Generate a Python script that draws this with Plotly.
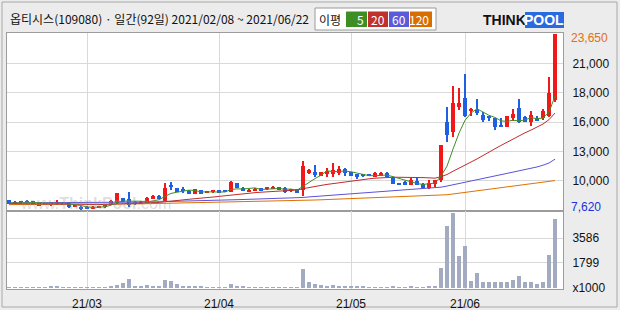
import plotly.graph_objects as go
from plotly.subplots import make_subplots

# ---------------- data ----------------
days = list(range(92))
opens = [8530, 8230, 8230, 8440, 8440, 8070, 8230, 8050, 8230, 8290,
         8230, 7920, 7920, 7920, 7710, 7860, 7860, 8140, 8230, 8690,
         8590, 8380, 8230, 8290, 8620, 8920, 8470, 9900, 9600, 9510,
         9380, 9080, 9440, 9200, 9230, 9440, 9440, 9290, 10050, 9650,
         9290, 9350, 9600, 9510, 9600, 9740, 9650, 9380, 9510, 9440,
         10960, 11110, 10740, 10900, 10900, 11020, 11330, 11050, 10870, 10840,
         10840, 10650, 10740, 10960, 10560, 10100, 10200, 9925, 10262, 10020,
         9620, 9990, 10353, 15660, 14750, 17030, 17790, 16640, 16730, 16270,
         16180, 15970, 15360, 15210, 16030, 16880, 16060, 15660, 15970, 16030,
         16180, 17640]
highs = [8560, 8400, 8460, 8530, 8460, 8250, 8250, 8340, 8530, 8310,
         8250, 8090, 7950, 7950, 7940, 8030, 8160, 8500, 9160, 8710,
         9290, 8400, 8400, 8760, 8950, 8950, 10050, 10140, 9650, 9740,
         9400, 9560, 9470, 9350, 9460, 9480, 9460, 10230, 10080, 9680,
         9500, 9620, 9650, 9750, 9820, 9760, 9680, 9500, 9500, 12110,
         11350, 11720, 11080, 11420, 11930, 11630, 11470, 11080, 10900, 10870,
         10880, 11100, 11050, 11050, 10600, 10120, 10220, 10560, 10500, 10050,
         10353, 10380, 13560, 17030, 18910, 18700, 20010, 16940, 17730, 16570,
         16200, 16000, 15970, 16200, 16820, 17730, 16180, 16640, 16180, 16790,
         19760, 23650]
lows = [8150, 8200, 8210, 8170, 8050, 8050, 8120, 8030, 8070, 8120,
        7840, 7900, 7620, 7740, 7680, 7840, 7840, 8120, 8200, 8360,
        7870, 8120, 8200, 8270, 8600, 8600, 8450, 9440, 9250, 9140,
        9050, 9050, 9050, 9160, 9200, 9170, 9260, 9270, 9580, 9350,
        9260, 9330, 9420, 9480, 9560, 9420, 9200, 9320, 9150, 8900,
        10900, 10650, 10720, 10650, 10650, 10810, 10740, 10720, 10440, 10690,
        10690, 10600, 10720, 10630, 9950, 9900, 9900, 9900, 9880, 9600,
        9500, 9740, 10200, 13840, 14300, 16730, 16060, 16180, 16270, 15660,
        15750, 14910, 15200, 15180, 15750, 15520, 15620, 15300, 15720, 15820,
        16060, 17480]
closes = [8170, 8380, 8440, 8290, 8070, 8230, 8140, 8320, 8380, 8140,
          7860, 8070, 7680, 7770, 7920, 8010, 8140, 8470, 9140, 8380,
          8070, 8140, 8380, 8740, 8900, 8620, 9650, 9740, 9290, 9380,
          9080, 9510, 9080, 9290, 9440, 9200, 9290, 10200, 9600, 9380,
          9440, 9560, 9440, 9710, 9740, 9440, 9230, 9510, 9200, 11630,
          11260, 10810, 11050, 11200, 11260, 11350, 10960, 10740, 10600, 10720,
          10720, 10960, 10960, 10650, 9990, 9930, 9930, 10350, 9930, 9620,
          10110, 10350, 13540, 14450, 17390, 17390, 16180, 16820, 16430, 15820,
          15970, 15210, 15270, 16180, 16360, 15660, 15660, 16270, 15750, 16640,
          18300, 23650]
volumes = [60, 50, 50, 55, 50, 45, 45, 110, 115, 50,
           45, 40, 45, 40, 40, 45, 50, 90, 250, 340,
           640, 120, 75, 200, 120, 90, 560, 490, 290, 120,
           120, 120, 110, 60, 60, 55, 60, 270, 130, 120,
           60, 55, 50, 50, 45, 50, 50, 45, 50, 1370,
           440, 290, 220, 150, 200, 150, 130, 120, 110, 80,
           60, 60, 50, 55, 90, 70, 60, 110, 60, 70,
           120, 130, 1440, 4460, 5380, 2330, 2990, 490, 1080, 420,
           420, 420, 420, 420, 560, 860, 420, 420, 290, 420,
           2400, 4970]
ma5 = [8250, 8260, 8280, 8270, 8270, 8282, 8234, 8210, 8228, 8242,
       8168, 8154, 8026, 7904, 7860, 7890, 7904, 8062, 8336, 8428,
       8440, 8440, 8422, 8342, 8446, 8556, 8858, 9130, 9240, 9336,
       9428, 9400, 9268, 9268, 9280, 9304, 9260, 9484, 9546, 9534,
       9582, 9636, 9484, 9506, 9578, 9578, 9512, 9526, 9424, 9802,
       10166, 10482, 10790, 11190, 11116, 11134, 11164, 11102, 10982, 10874,
       10748, 10748, 10792, 10802, 10656, 10498, 10292, 10170, 10026, 9952,
       9988, 10072, 10710, 11614, 13168, 14624, 15790, 16446, 16842, 16528,
       16244, 16050, 15740, 15690, 15798, 15736, 15826, 16026, 15940, 15996,
       16524, 18000]
ma20 = [8200, 8200, 8200, 8190, 8190, 8190, 8185, 8185, 8180, 8180,
        8175, 8170, 8150, 8130, 8110, 8100, 8100, 8110, 8170, 8200,
        8210, 8220, 8230, 8260, 8290, 8310, 8380, 8450, 8500, 8560,
        8600, 8650, 8720, 8760, 8800, 8860, 8920, 9020, 9080, 9130,
        9160, 9200, 9240, 9280, 9320, 9360, 9390, 9420, 9440, 9560,
        9680, 9770, 9860, 9950, 10030, 10120, 10200, 10280, 10340, 10400,
        10460, 10520, 10560, 10600, 10600, 10600, 10600, 10620, 10620, 10570,
        10550, 10520, 10660, 10850, 11150, 11450, 11700, 11990, 12270, 12600,
        12900, 13200, 13500, 13800, 14100, 14400, 14650, 14900, 15150, 15450,
        15850, 16450]
ma60 = [8270, 8270, 8275, 8275, 8275, 8280, 8280, 8280, 8285, 8285,
        8285, 8285, 8285, 8290, 8290, 8290, 8295, 8300, 8310, 8320,
        8325, 8330, 8335, 8345, 8355, 8365, 8380, 8395, 8410, 8425,
        8440, 8455, 8470, 8485, 8500, 8515, 8530, 8545, 8560, 8575,
        8590, 8605, 8620, 8635, 8650, 8665, 8680, 8695, 8710, 8760,
        8810, 8850, 8890, 8930, 8970, 9010, 9050, 9090, 9130, 9170,
        9210, 9250, 9290, 9330, 9360, 9390, 9420, 9450, 9490, 9530,
        9570, 9610, 9700, 9800, 9910, 10030, 10150, 10270, 10390, 10500,
        10610, 10720, 10830, 10950, 11070, 11190, 11300, 11420, 11540, 11700,
        11900, 12250]
ma120 = [8110, 8110, 8115, 8115, 8120, 8120, 8120, 8125, 8125, 8130,
         8130, 8130, 8135, 8135, 8135, 8140, 8140, 8145, 8150, 8160,
         8170, 8175, 8180, 8190, 8200, 8210, 8220, 8235, 8250, 8260,
         8275, 8285, 8295, 8305, 8315, 8325, 8335, 8350, 8365, 8375,
         8385, 8395, 8405, 8415, 8425, 8440, 8450, 8460, 8470, 8490,
         8510, 8530, 8550, 8570, 8590, 8610, 8630, 8650, 8670, 8690,
         8710, 8730, 8750, 8770, 8790, 8810, 8830, 8850, 8870, 8890,
         8905, 8920, 8950, 9010, 9080, 9150, 9220, 9290, 9360, 9425,
         9490, 9555, 9620, 9690, 9760, 9830, 9895, 9960, 10025, 10095,
         10180, 10300]

month_idx = [13, 35, 57, 76]
month_labels = ["21/03", "21/04", "21/05", "21/06"]
price_max, price_min = 23650, 7620
price_ticks = [10292, 12963, 15635, 18307, 20978]
price_labels = ["10,000", "13,000", "16,000", "18,000", "21,000"]
vol_ticks = [0, 1799, 3586]
vol_labels = ["x1000", "1799", "3586"]

# ---------------- styling ----------------
RED, BLUE = "#f01818", "#1f5fe3"
C_MA5, C_MA20, C_MA60, C_MA120 = "#3d8f25", "#c22a2a", "#5b52d8", "#e07000"
VOLC = "#a3abc2"
GRID = "#d9d9d9"
FRAME = "#9c9c9c"
FONT = "Noto Sans CJK KR"
TFONT = "Liberation Sans"

W, H = 620, 310
L, R, T, B = 7, 563, 33, 289


def px(x):
    return (x - L) / (R - L)


def py(y):
    return (B - y) / (B - T)


fig = make_subplots(rows=2, cols=1, shared_xaxes=True, vertical_spacing=0,
                    row_heights=[178, 78])

up = [c >= o for o, c in zip(opens, closes)]
colors = [RED if u else BLUE for u in up]
body_base = [min(o, c) for o, c in zip(opens, closes)]
body_h = [max(abs(c - o), 60) for o, c in zip(opens, closes)]
wick_h = [h - l for h, l in zip(highs, lows)]

for vals, col in [(ma120, C_MA120), (ma60, C_MA60), (ma20, C_MA20), (ma5, C_MA5)]:
    fig.add_trace(go.Scatter(x=days, y=vals, mode="lines",
                             line=dict(color=col, width=1),
                             hoverinfo="skip"), row=1, col=1)

fig.add_trace(go.Bar(x=days, y=wick_h, base=lows, width=0.17,
                     marker=dict(color=colors, line=dict(width=0))), row=1, col=1)
fig.add_trace(go.Bar(x=days, y=body_h, base=body_base, width=0.72,
                     marker=dict(color=colors, line=dict(width=0))), row=1, col=1)
fig.add_trace(go.Bar(x=days, y=volumes, width=0.82,
                     marker=dict(color=VOLC, line=dict(width=0))), row=2, col=1)

pp = (price_max - price_min) / 176.0
vp = 5380 / 75.0
xr = [-(9 - L) / 6.0, 91 + (R - 555) / 6.0]

axis_common = dict(showline=True, mirror=True, linecolor=FRAME, linewidth=1,
                   gridcolor=GRID, gridwidth=1, zeroline=False, fixedrange=True,
                   automargin=False)
fig.update_xaxes(range=xr, tickvals=month_idx, ticktext=month_labels,
                 showgrid=True, ticks="", **axis_common)
fig.update_xaxes(showticklabels=False, row=1, col=1)
fig.update_xaxes(tickfont=dict(family=TFONT, size=12, color="#111"),
                 ticklabelstandoff=4, row=2, col=1)
fig.update_yaxes(side="right", range=[price_min - pp, price_max + pp],
                 tickvals=price_ticks, ticktext=price_labels, showgrid=True,
                 ticks="", ticklabelstandoff=6,
                 tickfont=dict(family=TFONT, size=12, color="#111"),
                 row=1, col=1, **axis_common)
fig.update_yaxes(side="right", range=[-vp, 5380 + 2 * vp],
                 tickvals=vol_ticks, ticktext=vol_labels, showgrid=True,
                 ticks="", ticklabelstandoff=6,
                 tickfont=dict(family=TFONT, size=12, color="#111"),
                 row=2, col=1, **axis_common)

annotations = [
    dict(x=1, xref="x domain", xanchor="left", xshift=6,
         y=price_max, yref="y", yshift=-4, yanchor="middle",
         text=f"{price_max:,}", showarrow=False,
         font=dict(family=TFONT, size=12, color="#e07010")),
    dict(x=1, xref="x domain", xanchor="left", xshift=6,
         y=price_min, yref="y", yshift=3, yanchor="middle",
         text=f"{price_min:,}", showarrow=False,
         font=dict(family=TFONT, size=12, color="#2030e0")),
    dict(x=px(8), xref="paper", xanchor="left", y=py(18), yref="paper", yanchor="middle",
         text="옵티시스(109080) · 일간(92일) 2021/02/08 ~ 2021/06/22", showarrow=False,
         font=dict(family=FONT, size=12, color="#111")),
    dict(x=px(330), xref="paper", xanchor="center", y=py(19), yref="paper", yanchor="middle",
         text="이평", showarrow=False, font=dict(family=FONT, size=12, color="#111")),
    dict(x=px(504), xref="paper", xanchor="center", y=py(20), yref="paper", yanchor="middle",
         text="<b>THINK</b>", showarrow=False,
         font=dict(family="Liberation Sans", size=14, color="#111")),
    dict(x=px(544), xref="paper", xanchor="center", y=py(20), yref="paper", yanchor="middle",
         text="<b>POOL</b>", showarrow=False,
         font=dict(family="Liberation Sans", size=14, color="white")),
    dict(x=px(95), xref="paper", xanchor="center", y=py(203), yref="paper", yanchor="middle",
         text="www.<b>ThinkPool</b>.com", showarrow=False,
         font=dict(family="Liberation Sans", size=16, color="rgba(150,150,150,0.32)")),
]
legend_boxes = [("5", C_MA5, 346, 367), ("20", "#c0302c", 368, 388),
                ("60", "#5c5ad8", 389, 409), ("120", "#d86e00", 410, 432)]
shapes = [
    dict(type="rect", xref="paper", yref="paper", x0=px(2), x1=px(617), y0=py(2), y1=py(307),
         line=dict(color="#a8a8a8", width=1), fillcolor="rgba(0,0,0,0)", layer="below"),
    dict(type="rect", xref="paper", yref="paper", x0=px(315), x1=px(436), y0=py(8), y1=py(30),
         line=dict(color="#9a9a9a", width=1), fillcolor="white"),
    dict(type="rect", xref="paper", yref="paper", x0=px(525), x1=px(564), y0=py(12), y1=py(28),
         line=dict(width=0), fillcolor="#2a6ae0"),
]
for txt, col, x0, x1 in legend_boxes:
    shapes.append(dict(type="rect", xref="paper", yref="paper", x0=px(x0), x1=px(x1),
                       y0=py(11.5), y1=py(27), line=dict(width=0), fillcolor=col))
    annotations.append(dict(x=px(x1 - 1), xref="paper", xanchor="right", y=py(19.5),
                            yref="paper", yanchor="middle", text=txt, showarrow=False,
                            font=dict(family=FONT, size=12, color="white")))

fig.update_layout(
    width=W, height=H, margin=dict(l=L, r=W - R, t=T, b=H - B, autoexpand=False),
    paper_bgcolor="#ececec", plot_bgcolor="white",
    barmode="overlay", bargap=0, showlegend=False,
    annotations=annotations, shapes=shapes,
)

fig.write_html("out.html")
